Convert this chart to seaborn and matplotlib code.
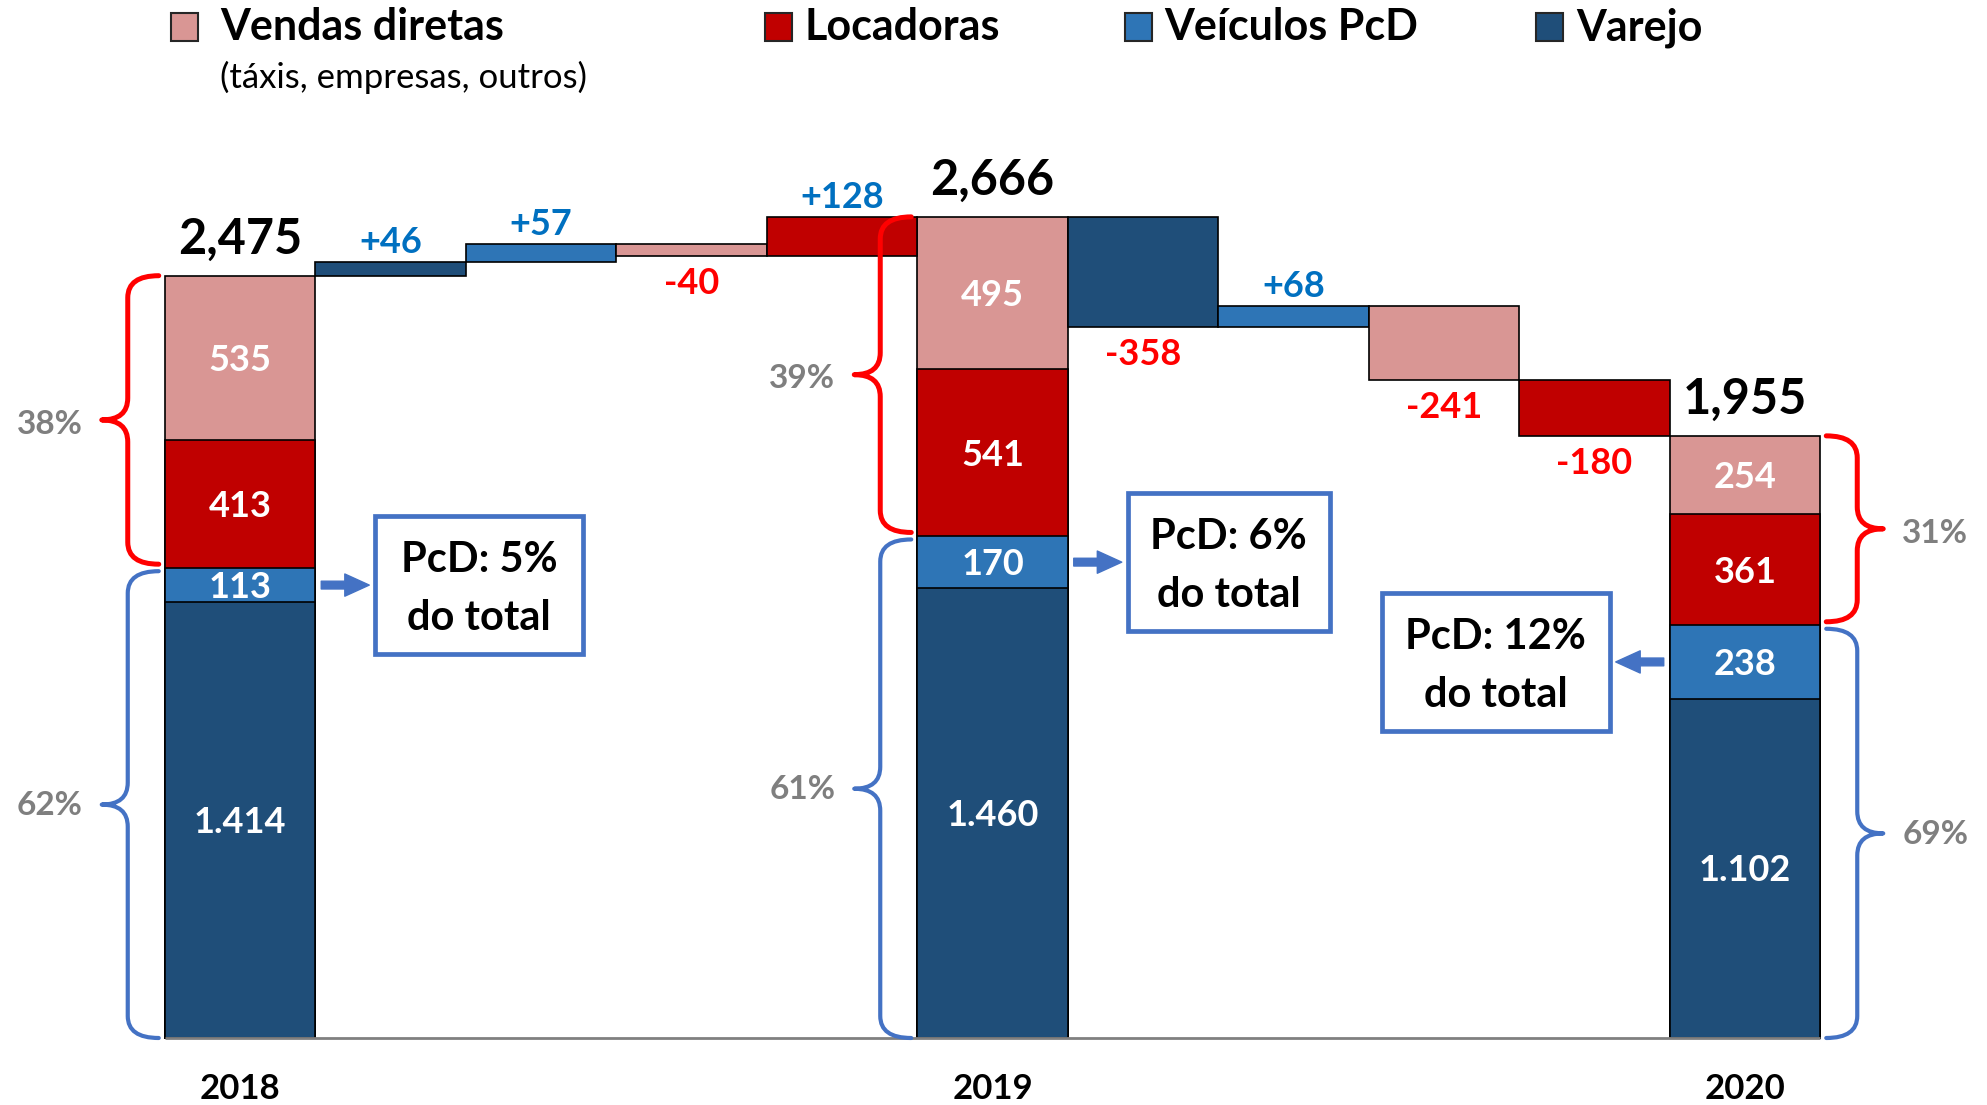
import numpy as np
import pandas as pd
import matplotlib
matplotlib.use("Agg")
import matplotlib.pyplot as plt
from matplotlib.patches import Rectangle, PathPatch
from matplotlib.path import Path
import seaborn as sns

# --- data -------------------------------------------------------------
years = ["2018", "2019", "2020"]
varejo = [1414, 1460, 1102]
pcd = [113, 170, 238]
locadoras = [413, 541, 361]
vendas = [535, 495, 254]

step_series = ["Varejo", "Veículos PcD", "Vendas diretas", "Locadoras"]
steps_1819 = [46, 57, -40, 128]
steps_1920 = [-358, 68, -241, -180]

share_top = ["38%", "39%", "31%"]      # vendas diretas + locadoras
share_bottom = ["62%", "61%", "69%"]   # varejo + PcD
pcd_box = [("PcD: 5%", "do total"), ("PcD: 6%", "do total"), ("PcD: 12%", "do total")]

colors = {"Vendas diretas": "#D99694", "Locadoras": "#C00000",
          "Veículos PcD": "#2E75B6", "Varejo": "#1F4E79"}
BLUE_TXT = "#0070C0"
RED_TXT = "#FF0000"
BRACE_BLUE = "#4472C4"
GRAY = "#7F7F7F"

# --- layout helpers (pixels of the 1987x1105 image -> data) -------------
W, H = 1987, 1105
X0, XS = 240, 150.5      # px centre of slot 0, px per slot
Y0, YS = 1038, 0.308     # px of value 0, px per unit


def dx(px):
    return (px - X0) / XS


def dy(py):
    return (Y0 - py) / YS


def ypx(v):
    return Y0 - v * YS


slots = ["2018", "a1", "a2", "a3", "a4", "2019", "b1", "b2", "b3", "b4", "2020"]
year_idx = [0, 5, 10]

totals = [a + b + c + d for a, b, c, d in zip(varejo, pcd, locadoras, vendas)]

sns.set_style("white")
plt.rcParams["font.family"] = ["Lato", "DejaVu Sans"]

fig = plt.figure(figsize=(W / 100, H / 100), dpi=100)
ax = fig.add_axes([0, 0, 1, 1])

# stacked year bars, drawn as overlapping cumulative layers
layers = [
    ("Vendas diretas", totals),
    ("Locadoras", [a + b + c for a, b, c in zip(varejo, pcd, locadoras)]),
    ("Veículos PcD", [a + b for a, b in zip(varejo, pcd)]),
    ("Varejo", varejo),
]
for name, vals in layers:
    sns.barplot(x=years, y=vals, order=slots, color=colors[name], saturation=1,
                width=1.0, edgecolor="black", linewidth=1.2, errorbar=None,
                ax=ax, zorder=2)

# waterfall steps
rows = []
for start, deltas, first in [(totals[0], steps_1819, 1), (totals[1], steps_1920, 6)]:
    level = start
    for k, d in enumerate(deltas):
        bottom = level if d > 0 else level + d
        rows.append(dict(slot=slots[first + k], idx=first + k, series=step_series[k],
                         bottom=bottom, height=abs(d), delta=d))
        level += d
steps = pd.DataFrame(rows)

for s in step_series:
    sub = steps[steps["series"] == s].sort_values("idx")
    sns.barplot(data=sub, x="slot", y="height", order=slots, bottom=sub["bottom"].to_numpy(),
                color=colors[s], saturation=1, width=1.0, edgecolor="black",
                linewidth=1.2, errorbar=None, ax=ax, zorder=2)

# baseline
ax.plot([-0.5, 10.5], [0, 0], color="#808080", lw=2, zorder=3, solid_capstyle="butt")

# step labels
for _, r in steps.iterrows():
    lab = f"{r.delta:+d}"
    if r.delta > 0:
        ax.text(r.idx, dy(ypx(r.bottom + r.height) - 9), lab, ha="center", va="baseline",
                fontsize=26, fontweight="bold", color=BLUE_TXT)
    else:
        ax.text(r.idx, dy(ypx(r.bottom) + 38), lab, ha="center", va="baseline",
                fontsize=26, fontweight="bold", color=RED_TXT)

# segment labels, totals, years
for i, xi in enumerate(year_idx):
    segs = [varejo[i], pcd[i], locadoras[i], vendas[i]]
    base = 0
    for v in segs:
        c = ypx(base + v / 2)
        ax.text(xi, dy(c + 13), f"{v:,}".replace(",", "."), ha="center", va="baseline",
                fontsize=26, fontweight="bold", color="white", zorder=5)
        base += v
    ax.text(xi, dy(ypx(totals[i]) - 22), f"{totals[i]:,}", ha="center", va="baseline",
            fontsize=35, fontweight="bold", color="black")
    ax.text(xi, dy(1099), years[i], ha="center", va="baseline",
            fontsize=25, fontweight="bold", color="black")


# braces
def brace(x_end, x_line, x_tip, y_top, y_bot, color, lw):
    ym = (y_top + y_bot) / 2
    r = 22
    pts = [(x_end, y_top), (x_line, y_top), (x_line, y_top + r),
           (x_line, ym - r), (x_line, ym), (x_tip, ym),
           (x_line, ym), (x_line, ym + r),
           (x_line, y_bot - r), (x_line, y_bot), (x_end, y_bot)]
    codes = [Path.MOVETO, Path.CURVE3, Path.CURVE3, Path.LINETO, Path.CURVE3, Path.CURVE3,
             Path.CURVE3, Path.CURVE3, Path.LINETO, Path.CURVE3, Path.CURVE3]
    verts = [(dx(x), dy(y)) for x, y in pts]
    ax.add_patch(PathPatch(Path(verts, codes), fill=False, edgecolor=color, lw=lw,
                           capstyle="round", joinstyle="round", clip_on=False, zorder=4))


brace_side = [-1, -1, 1]
box_side = [1, 1, -1]
box_w = [208, 202, 228]
box_h = 138
for i, xi in enumerate(year_idx):
    cx = X0 + XS * xi
    s = brace_side[i]
    edge = cx + s * XS / 2
    top = ypx(totals[i])
    mid = ypx(varejo[i] + pcd[i])
    brace(edge + s * 6, edge + s * 37, edge + s * 63, top, mid - 3.5, RED_TXT, 3.6)
    brace(edge + s * 6, edge + s * 37, edge + s * 63, mid + 3.5, Y0, BRACE_BLUE, 3.0)
    ax.text(dx(edge + s * 115), dy((top + mid) / 2 + 12), share_top[i], ha="center",
            va="baseline", fontsize=24, fontweight="bold", color=GRAY)
    ax.text(dx(edge + s * 115), dy((mid + Y0) / 2 + 12), share_bottom[i], ha="center",
            va="baseline", fontsize=24, fontweight="bold", color=GRAY)

    # PcD box with arrow
    b = box_side[i]
    bedge = cx + b * XS / 2
    pc = ypx(varejo[i] + pcd[i] / 2)
    near = bedge + b * 60
    far = near + b * box_w[i]
    left, right = min(near, far), max(near, far)
    ax.add_patch(Rectangle((dx(left), dy(pc + box_h / 2)), dx(right) - dx(left),
                           box_h / YS, fill=True, facecolor="white",
                           edgecolor=BRACE_BLUE, lw=3.4, zorder=4, clip_on=False))
    bc = (left + right) / 2
    ax.text(dx(bc), dy(pc - 13), pcd_box[i][0], ha="center", va="baseline",
            fontsize=30, fontweight="bold", color="black", zorder=5)
    ax.text(dx(bc), dy(pc + 45), pcd_box[i][1], ha="center", va="baseline",
            fontsize=30, fontweight="bold", color="black", zorder=5)
    ax.annotate("", xy=(dx(near - b * 6), dy(pc)), xytext=(dx(bedge + b * 6), dy(pc)),
                arrowprops=dict(arrowstyle="simple,head_length=1.1,head_width=1.0,tail_width=0.35",
                                color=BRACE_BLUE, mutation_scale=16, shrinkA=0, shrinkB=0))

# legend
legend_items = [("Vendas diretas", 171, 220), ("Locadoras", 765, 805),
                ("Veículos PcD", 1125, 1164), ("Varejo", 1536, 1576)]
for name, sq, tx in legend_items:
    ax.add_patch(Rectangle((dx(sq), dy(41)), 27 / XS, 28 / YS, facecolor=colors[name],
                           edgecolor="#262626", lw=1.5, clip_on=False))
    ax.text(dx(tx), dy(40), name, ha="left", va="baseline", fontsize=31,
            fontweight="bold", color="black")
ax.text(dx(220), dy(88), "(táxis, empresas, outros)", ha="left", va="baseline",
        fontsize=25, color="black")

ax.set_xlim(dx(0), dx(W))
ax.set_ylim(dy(H), dy(0))
ax.axis("off")

fig.savefig("out.png", dpi=100)
